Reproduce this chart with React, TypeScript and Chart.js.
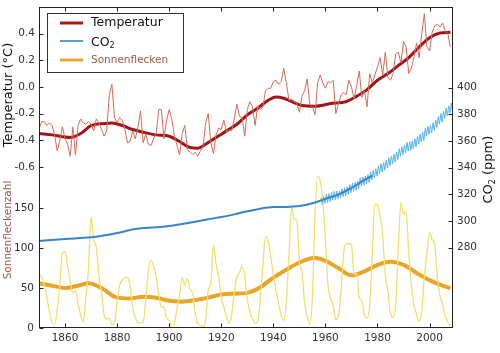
import React, { useEffect, useRef } from "react";
import { Chart, registerables } from "chart.js";

Chart.register(...registerables);

// ---- data ----
const firstYear = 1850;

// annual global temperature anomaly (°C), 1850..2008
const tempAnnual = [
  -0.32, -0.26, -0.26, -0.29, -0.27, -0.29, -0.36, -0.48, -0.4, -0.3,
  -0.39, -0.43, -0.52, -0.3, -0.51, -0.29, -0.24, -0.27, -0.28, -0.26,
  -0.28, -0.33, -0.24, -0.27, -0.32, -0.37, -0.33, -0.06, 0.02, -0.23,
  -0.27, -0.23, -0.25, -0.32, -0.42, -0.41, -0.33, -0.39, -0.3, -0.18,
  -0.42, -0.35, -0.43, -0.44, -0.39, -0.35, -0.17, -0.17, -0.39, -0.25,
  -0.17, -0.24, -0.37, -0.44, -0.51, -0.35, -0.29, -0.47, -0.49, -0.51,
  -0.49, -0.52, -0.48, -0.45, -0.27, -0.2, -0.42, -0.5, -0.36, -0.31,
  -0.32, -0.25, -0.34, -0.32, -0.33, -0.24, -0.13, -0.22, -0.23, -0.37,
  -0.17, -0.11, -0.15, -0.29, -0.14, -0.17, -0.15, -0.03, -0.01, -0.01,
  0.04, 0.05, 0.02, 0.04, 0.14, 0.03, -0.1, -0.09, -0.11, -0.12,
  -0.19, -0.07, -0.03, 0.06, -0.13, -0.15, -0.21, 0.03, 0.09, 0.03,
  -0.01, 0.04, 0.03, 0.05, -0.2, -0.13, -0.06, -0.04, -0.06, 0.05,
  0.0, -0.09, 0.01, 0.12, -0.08, -0.03, -0.15, 0.1, 0.03, 0.09,
  0.15, 0.22, 0.09, 0.26, 0.07, 0.05, 0.1, 0.25, 0.26, 0.18,
  0.34, 0.3, 0.1, 0.14, 0.22, 0.33, 0.22, 0.4, 0.55, 0.3,
  0.27, 0.41, 0.46, 0.47, 0.45, 0.48, 0.42, 0.4, 0.3,
];

// smoothed temperature
const tempSmoothYears = [1850, 1855, 1862, 1866, 1870, 1875, 1878, 1882, 1886, 1890, 1895, 1900, 1904, 1908, 1911, 1914, 1918, 1922, 1926, 1930, 1934, 1938, 1941, 1944, 1947, 1951, 1956, 1962, 1968, 1972, 1976, 1980, 1984, 1988, 1992, 1996, 2000, 2004, 2008];
const tempSmoothValues = [-0.35, -0.36, -0.38, -0.35, -0.29, -0.275, -0.27, -0.29, -0.32, -0.34, -0.36, -0.37, -0.41, -0.455, -0.46, -0.43, -0.38, -0.33, -0.28, -0.21, -0.16, -0.1, -0.075, -0.085, -0.11, -0.14, -0.145, -0.125, -0.11, -0.07, -0.02, 0.05, 0.1, 0.16, 0.22, 0.3, 0.37, 0.405, 0.41];

// CO2 (ppm) ice core record
const co2IceYears = [1850, 1860, 1870, 1876, 1880, 1887, 1895, 1900, 1905, 1910, 1915, 1920, 1925, 1930, 1935, 1940, 1945, 1950, 1955, 1960, 1965, 1970, 1975, 1978];
const co2IceValues = [285, 286.5, 287.8, 289.5, 291, 294, 295.3, 296.2, 297.8, 299.5, 301.3, 303, 305, 307.3, 309.3, 310.5, 310.6, 311.2, 313.3, 316.6, 319.8, 324.8, 330.8, 334];

// CO2 (ppm) Mauna Loa, seasonal maxima (May) and minima (Oct), 1958..2008
const co2MloFirstYear = 1958;
const co2MloMay = [317.5, 318.3, 320.0, 320.6, 321.6, 322.3, 322.5, 322.5, 324.0, 325.0, 325.6, 327.4, 328.5, 328.9, 330.1, 332.5, 333.1, 333.8, 334.8, 336.9, 338.0, 339.2, 341.5, 343.0, 344.1, 345.8, 347.5, 348.8, 350.3, 351.7, 354.2, 355.7, 357.1, 359.1, 359.5, 360.2, 361.7, 363.6, 365.3, 366.7, 369.5, 371.0, 371.8, 373.8, 375.6, 378.5, 380.6, 382.3, 384.6, 386.4, 388.5];
const co2MloOct = [312.4, 313.3, 313.8, 314.6, 315.5, 316.0, 316.7, 317.1, 318.2, 319.0, 319.8, 321.3, 322.3, 323.1, 324.3, 326.3, 326.8, 327.8, 328.8, 330.8, 332.3, 333.7, 335.6, 336.8, 338.1, 339.9, 341.4, 343.0, 344.2, 346.1, 348.6, 349.8, 351.2, 352.5, 353.0, 354.0, 355.6, 357.6, 359.4, 360.3, 363.8, 365.1, 366.2, 368.0, 370.3, 372.8, 374.2, 377.0, 378.9, 380.7, 382.5];

// yearly sunspot number, 1850..2008
const sunAnnual = [
  66.6, 64.5, 54.1, 39.0, 20.6, 6.7, 4.3, 22.7, 54.8, 93.8,
  95.8, 77.2, 59.1, 44.0, 47.0, 30.5, 16.3, 7.3, 37.6, 74.0,
  139.0, 111.2, 101.6, 66.2, 44.7, 17.0, 11.3, 12.4, 3.4, 6.0,
  32.3, 54.3, 59.7, 63.7, 63.5, 52.2, 25.4, 13.1, 6.8, 6.3,
  7.1, 35.6, 73.0, 85.1, 78.0, 64.0, 41.8, 26.2, 26.7, 12.1,
  9.5, 2.7, 5.0, 24.4, 42.0, 63.5, 53.8, 62.0, 48.5, 43.9,
  18.6, 5.7, 3.6, 1.4, 9.6, 47.4, 57.1, 103.9, 80.6, 63.6,
  37.6, 26.1, 14.2, 5.8, 16.7, 44.3, 63.9, 69.0, 77.8, 64.9,
  35.7, 21.2, 11.1, 5.7, 8.7, 36.1, 79.7, 114.4, 109.6, 88.8,
  67.8, 47.5, 30.6, 16.3, 9.6, 33.2, 92.6, 151.6, 136.3, 134.7,
  83.9, 69.4, 31.5, 13.9, 4.4, 38.0, 141.7, 190.2, 184.8, 159.0,
  112.3, 53.9, 37.6, 27.9, 10.2, 15.1, 47.0, 93.8, 105.9, 105.5,
  104.5, 66.6, 68.9, 38.0, 34.5, 15.5, 12.6, 27.5, 92.5, 155.4,
  154.7, 140.5, 115.9, 66.6, 45.9, 17.9, 13.4, 29.4, 100.2, 157.6,
  142.6, 145.7, 94.3, 54.6, 29.9, 17.5, 8.6, 21.5, 64.3, 93.3,
  119.6, 111.0, 104.0, 63.7, 40.4, 29.8, 15.2, 7.5, 2.9,
];

// smoothed sunspot number
const sunSmoothYears = [1850, 1855, 1860, 1865, 1869, 1874, 1880, 1885, 1890, 1895, 1900, 1905, 1910, 1915, 1920, 1925, 1930, 1935, 1940, 1945, 1950, 1956, 1960, 1965, 1970, 1975, 1980, 1985, 1990, 1995, 2000, 2005, 2008];
const sunSmoothValues = [56, 53, 50, 53, 56, 50, 38, 37, 39, 38, 34, 33, 35, 38, 42, 43, 44, 51, 63, 73, 82, 88, 84, 75, 66, 71, 79, 83, 79, 69, 60, 53, 50];

// axes
const xTicks = [1860, 1880, 1900, 1920, 1940, 1960, 1980, 2000];
const tempTicks = [-0.6, -0.4, -0.2, 0.0, 0.2, 0.4];
const sunTicks = [0, 50, 100, 150];
const co2Ticks = [280, 300, 320, 340, 360, 380, 400];

const labelTemp = "Temperatur";
const labelCo2 = "CO2";
const labelSun = "Sonnenflecken";
const titleTemp = "Temperatur (°C)";
const titleSun = "Sonnenfleckenzahl";

const FONT = '"DejaVu Sans", sans-serif';
const BROWN = "#9a5a48";

function pairs(xs: number[], ys: number[]) {
  return ys.map((y, i) => ({ x: xs[i], y }));
}
function annual(ys: number[]) {
  return ys.map((y, i) => ({ x: firstYear + i, y }));
}
function mlo() {
  const pts: { x: number; y: number }[] = [];
  co2MloMay.forEach((v, i) => {
    pts.push({ x: co2MloFirstYear + i + 0.37, y: v });
    pts.push({ x: co2MloFirstYear + i + 0.79, y: co2MloOct[i] });
  });
  return pts;
}

function drawCO2(ctx: CanvasRenderingContext2D, x: number, y: number, size: number, rest: string) {
  ctx.font = `${size}px ${FONT}`;
  ctx.textBaseline = "alphabetic";
  ctx.textAlign = "left";
  ctx.fillText("CO", x, y);
  let w = ctx.measureText("CO").width;
  ctx.font = `${Math.round(size * 0.62)}px ${FONT}`;
  ctx.fillText("2", x + w, y + size * 0.22);
  w += ctx.measureText("2").width;
  if (rest) {
    ctx.font = `${size}px ${FONT}`;
    ctx.fillText(rest, x + w, y);
    w += ctx.measureText(rest).width;
  }
  return w;
}

const decorPlugin = {
  id: "decor",
  afterDraw(chart: any) {
    const { ctx, chartArea: a, scales } = chart;
    const xs = scales.x, yt = scales.yTemp, ys = scales.ySun, yc = scales.yCo2;
    ctx.save();
    // frame
    ctx.strokeStyle = "#222";
    ctx.lineWidth = 1;
    ctx.strokeRect(a.left + 0.5, a.top + 0.5, a.right - a.left - 1, a.bottom - a.top - 1);
    const L = a.left + 0.5, R = a.right - 0.5, T = a.top + 0.5, B = a.bottom - 0.5;
    ctx.beginPath();
    xTicks.forEach((v) => {
      const px = Math.round(xs.getPixelForValue(v)) + 0.5;
      ctx.moveTo(px, B); ctx.lineTo(px, B - 4);
      ctx.moveTo(px, T); ctx.lineTo(px, T + 4);
    });
    tempTicks.forEach((v) => {
      const py = Math.round(yt.getPixelForValue(v)) + 0.5;
      ctx.moveTo(L, py); ctx.lineTo(L + 4, py);
    });
    sunTicks.forEach((v) => {
      const py = Math.round(ys.getPixelForValue(v)) + 0.5;
      ctx.moveTo(L, py); ctx.lineTo(L + 4, py);
    });
    co2Ticks.forEach((v) => {
      const py = Math.round(yc.getPixelForValue(v)) + 0.5;
      ctx.moveTo(R, py); ctx.lineTo(R - 4, py);
    });
    ctx.stroke();

    // tick labels
    ctx.fillStyle = "#333";
    ctx.font = `10.5px ${FONT}`;
    ctx.textBaseline = "middle";
    ctx.textAlign = "center";
    xTicks.forEach((v) => ctx.fillText(String(v), xs.getPixelForValue(v), a.bottom + 10));
    ctx.textAlign = "right";
    tempTicks.forEach((v) => ctx.fillText(v.toFixed(1), a.left - 4, yt.getPixelForValue(v)));
    sunTicks.forEach((v) => ctx.fillText(String(v), a.left - 5, ys.getPixelForValue(v)));
    ctx.textAlign = "left";
    co2Ticks.forEach((v) => ctx.fillText(String(v), a.right + 4, yc.getPixelForValue(v)));

    // axis titles
    ctx.fillStyle = "#111";
    ctx.save();
    ctx.translate(12, 95);
    ctx.rotate(-Math.PI / 2);
    ctx.font = `13px ${FONT}`;
    ctx.textAlign = "center";
    ctx.textBaseline = "alphabetic";
    ctx.fillText(titleTemp, 0, 0);
    ctx.restore();

    ctx.save();
    ctx.translate(11, 230);
    ctx.rotate(-Math.PI / 2);
    ctx.font = `10.5px ${FONT}`;
    ctx.fillStyle = BROWN;
    ctx.textAlign = "center";
    ctx.textBaseline = "alphabetic";
    ctx.fillText(titleSun, 0, 0);
    ctx.restore();

    ctx.save();
    ctx.translate(492, 168);
    ctx.rotate(-Math.PI / 2);
    ctx.fillStyle = "#111";
    ctx.font = `13px ${FONT}`;
    const tw = ctx.measureText("CO2 (ppm)").width;
    drawCO2(ctx, -tw / 2, 0, 13, " (ppm)");
    ctx.restore();

    // legend
    const lx = 47.5, ly = 13.5, lw = 136, lh = 59;
    ctx.fillStyle = "#fff";
    ctx.fillRect(lx, ly, lw, lh);
    ctx.strokeStyle = "#333";
    ctx.lineWidth = 1;
    ctx.strokeRect(lx, ly, lw, lh);
    const items = [
      { label: labelTemp, color: "#a51a1a", w: 3, y: 23 },
      { label: labelCo2, color: "#4aa0e0", w: 2, y: 41 },
      { label: labelSun, color: "#e8a52a", w: 3, y: 60 },
    ];
    items.forEach((it) => {
      ctx.strokeStyle = it.color;
      ctx.lineWidth = it.w;
      ctx.beginPath();
      ctx.moveTo(60, it.y);
      ctx.lineTo(83, it.y);
      ctx.stroke();
    });
    ctx.fillStyle = "#111";
    ctx.font = `12.5px ${FONT}`;
    ctx.textAlign = "left";
    ctx.textBaseline = "middle";
    ctx.fillText(labelTemp, 91, 23);
    ctx.textBaseline = "alphabetic";
    drawCO2(ctx, 91, 45.5, 12.5, "");
    ctx.fillStyle = BROWN;
    ctx.font = `10.5px ${FONT}`;
    ctx.textBaseline = "middle";
    ctx.fillText(labelSun, 91, 60);
    ctx.restore();
  },
};

export default function App() {
  const ref = useRef<HTMLCanvasElement | null>(null);
  useEffect(() => {
    document.body.style.margin = "0";
    const canvas = ref.current!;
    const chart = new Chart(canvas, {
      type: "line",
      data: {
        datasets: [
          { label: "tempAnnual", data: annual(tempAnnual), yAxisID: "yTemp", borderColor: "#dc6a55", borderWidth: 1, tension: 0, pointRadius: 0 },
          { label: labelTemp, data: pairs(tempSmoothYears, tempSmoothValues), yAxisID: "yTemp", borderColor: "#a0151a", borderWidth: 3, cubicInterpolationMode: "monotone", pointRadius: 0 },
          { label: labelCo2, data: pairs(co2IceYears, co2IceValues), yAxisID: "yCo2", borderColor: "#3a84cc", borderWidth: 2, cubicInterpolationMode: "monotone", pointRadius: 0 },
          { label: "co2Mlo", data: mlo(), yAxisID: "yCo2", borderColor: "#55b4ee", borderWidth: 1, tension: 0, pointRadius: 0 },
          { label: "sunAnnual", data: annual(sunAnnual), yAxisID: "ySun", borderColor: "#f2df6e", borderWidth: 1.3, cubicInterpolationMode: "monotone", pointRadius: 0 },
          { label: labelSun, data: pairs(sunSmoothYears, sunSmoothValues), yAxisID: "ySun", borderColor: "#e8a52a", borderWidth: 4, cubicInterpolationMode: "monotone", pointRadius: 0 },
        ],
      },
      options: {
        animation: false,
        responsive: false,
        devicePixelRatio: 1,
        parsing: false as any,
        layout: { padding: { left: 39, right: 47, top: 7, bottom: 25 } },
        plugins: { legend: { display: false }, tooltip: { enabled: false } },
        scales: {
          x: { type: "linear", min: 1850, max: 2009, display: false },
          yTemp: { type: "linear", min: -1.81, max: 0.6, display: false },
          ySun: { type: "linear", min: 0, max: 402, display: false },
          yCo2: { type: "linear", min: 219.8, max: 460.5, display: false },
        },
      },
      plugins: [decorPlugin],
    });
    return () => chart.destroy();
  }, []);
  return (
    <div style={{ width: 500, height: 353, background: "#fff" }}>
      <canvas ref={ref} width={500} height={353} style={{ display: "block" }} />
    </div>
  );
}
